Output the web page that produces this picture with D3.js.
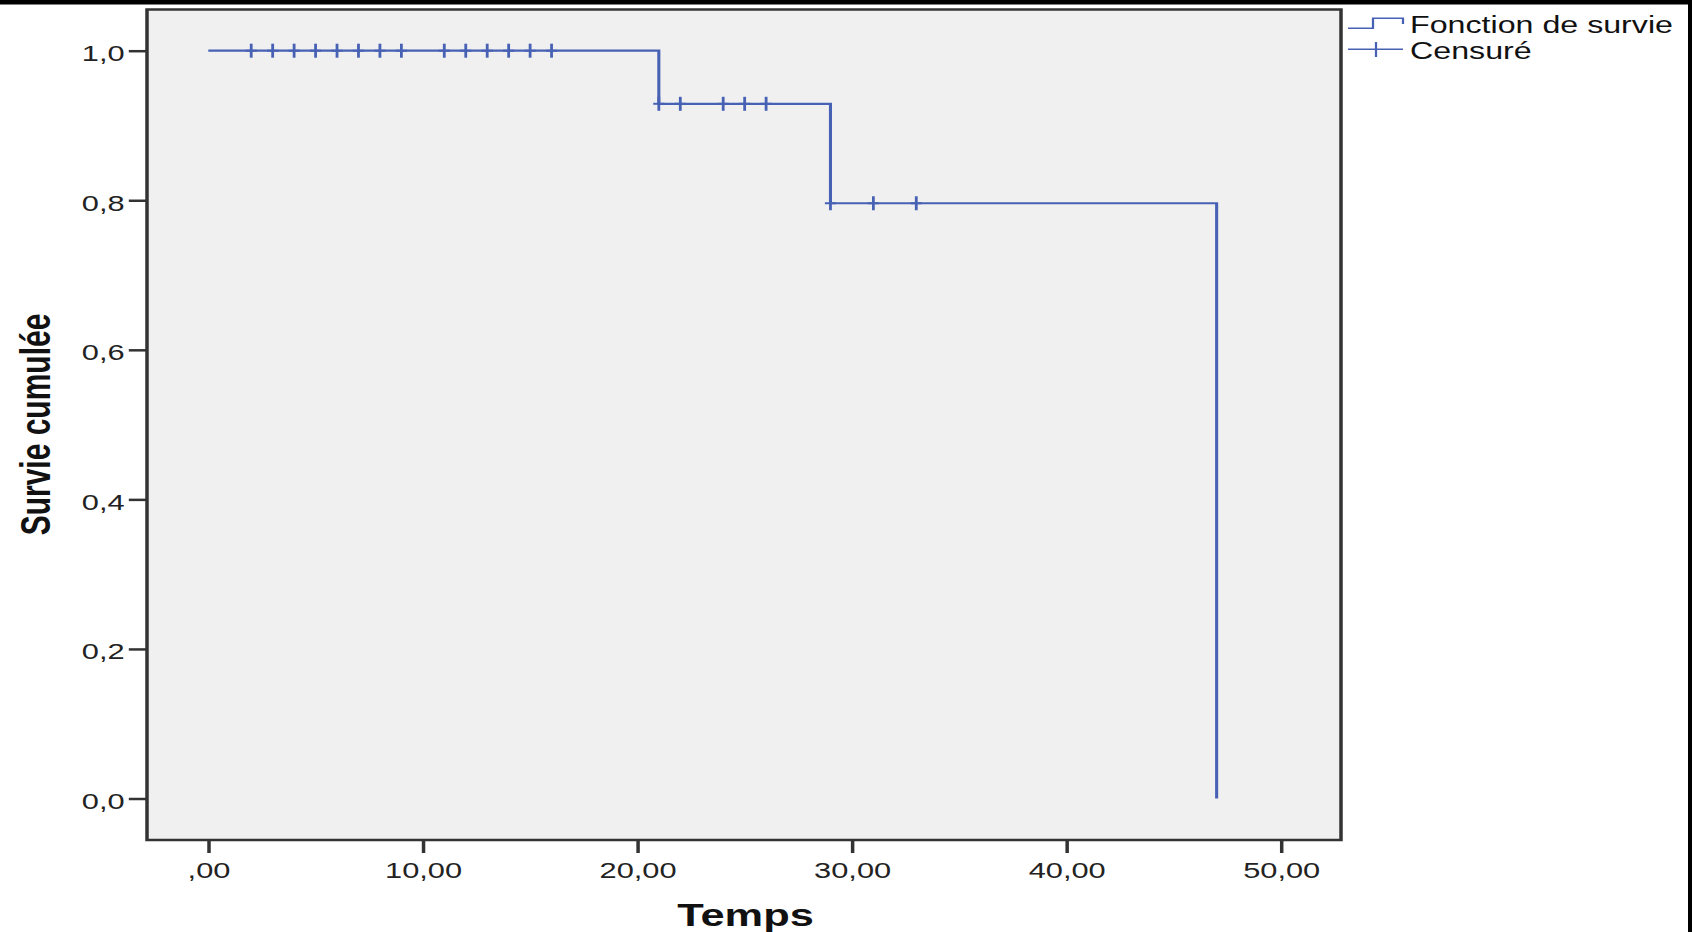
<!DOCTYPE html>
<html>
<head>
<meta charset="utf-8">
<script src="https://cdn.jsdelivr.net/npm/d3@7"></script>
<style>
  body { margin: 0; background: #fff; }
  svg { display: block; }
</style>
</head>
<body>
<div class="canva"></div>
<script>
// Kaplan-Meier curve (SPSS style)
const stepTimes = [0, 21, 29, 47];
const stepSurvival = [1.0, 0.929, 0.796, 0.0];
const censoredTimes = [2, 3, 4, 5, 6, 7, 8, 9, 11, 12, 13, 14, 15, 16,
                       21, 22, 24, 25, 26, 29, 31, 33];
const xTicks = [0, 10, 20, 30, 40, 50];
const yTicks = [0, 0.2, 0.4, 0.6, 0.8, 1.0];
const legendLabels = ["Fonction de survie", "Censuré"];

const width = 1692, height = 932;
// the original picture is stretched sideways, so everything is drawn in a scaled group
const SX = 1.4;
const lineColor = "#4761b4";
const frameColor = "#333";
const fontFam = "'Liberation Sans', Arial, sans-serif";

const svg = d3.select(".canva").append("svg")
    .attr("width", width)
    .attr("height", height);

svg.append("rect").attr("width", width).attr("height", height).attr("fill", "#fff");

const g = svg.append("g").attr("transform", `scale(${SX},1)`);

const frame = {left: 147 / SX, right: 1341 / SX, top: 9.5, bottom: 840};

const x = d3.scaleLinear().domain([0, 50]).range([208.3 / SX, 1281 / SX]);
const y = d3.scaleLinear().domain([0, 1]).range([798.5, 50.7]);

g.append("rect")
    .attr("x", frame.left)
    .attr("y", frame.top)
    .attr("width", frame.right - frame.left)
    .attr("height", frame.bottom - frame.top)
    .attr("fill", "#f0f0f0")
    .attr("stroke", frameColor)
    .attr("stroke-width", 2.5);

// axes
const yAxis = d3.axisLeft(y)
    .tickValues(yTicks)
    .tickSize(13)
    .tickPadding(3)
    .tickFormat(d => d3.format(".1f")(d).replace(".", ","));

const yG = g.append("g")
    .attr("transform", `translate(${frame.left},0)`)
    .call(yAxis);

const xAxis = d3.axisBottom(x)
    .tickValues(xTicks)
    .tickSize(13)
    .tickPadding(9)
    .tickFormat(d => d === 0 ? ",00" : d3.format(".2f")(d).replace(".", ","));

const xG = g.append("g")
    .attr("transform", `translate(0,${frame.bottom})`)
    .call(xAxis);

[xG, yG].forEach(ax => {
    ax.select(".domain").remove();
    ax.attr("font-size", 22).attr("font-family", fontFam);
    ax.selectAll(".tick line").attr("stroke", frameColor).attr("stroke-width", 2.5);
    ax.selectAll(".tick text").attr("fill", "#222");
});
yG.selectAll(".tick text").attr("dy", "0.45em");

// survival step curve
const line = d3.line()
    .x(d => x(d[0]))
    .y(d => y(d[1]))
    .curve(d3.curveStepAfter);

const pts = stepTimes.map((t, i) => [t, stepSurvival[i]]);

g.append("path")
    .datum(pts)
    .attr("fill", "none")
    .attr("stroke", lineColor)
    .attr("stroke-width", 2.2)
    .attr("d", line);

// censored marks: survival level at the time of censoring
const survAt = t => {
    let s = stepSurvival[0];
    stepTimes.forEach((st, i) => { if (st <= t) s = stepSurvival[i]; });
    return s;
};

const marks = g.append("g").selectAll("g")
    .data(censoredTimes)
    .enter()
    .append("g")
    .attr("transform", d => `translate(${x(d)},${y(survAt(d))})`)
    .attr("stroke", lineColor)
    .attr("stroke-width", 2);

marks.append("line").attr("x1", 0).attr("x2", 0).attr("y1", -7).attr("y2", 7);
marks.append("line").attr("x1", -4).attr("x2", 4).attr("y1", 0).attr("y2", 0);

// axis titles
g.append("text")
    .attr("transform", `translate(${50 / SX},424.5) rotate(-90)`)
    .attr("text-anchor", "middle")
    .attr("font-family", fontFam)
    .attr("font-weight", "bold")
    .attr("font-size", 30)
    .attr("fill", "#111")
    .text("Survie cumulée");

g.append("text")
    .attr("x", 745.5 / SX)
    .attr("y", 926.5)
    .attr("text-anchor", "middle")
    .attr("font-family", fontFam)
    .attr("font-weight", "bold")
    .attr("font-size", 31)
    .attr("fill", "#111")
    .text("Temps");

// legend
const lg = g.append("g");
const lx0 = 1348 / SX, lxMid = 1373 / SX, lx1 = 1403 / SX;

lg.append("path")
    .attr("d", `M${lx0},28.3 H${lxMid} V18.3 H${lx1} V24`)
    .attr("fill", "none")
    .attr("stroke", lineColor)
    .attr("stroke-width", 1.6);

lg.append("line")
    .attr("x1", lx0).attr("x2", lx1)
    .attr("y1", 49.3).attr("y2", 49.3)
    .attr("stroke", lineColor)
    .attr("stroke-width", 1.6);

lg.append("line")
    .attr("x1", 1376 / SX).attr("x2", 1376 / SX)
    .attr("y1", 42).attr("y2", 57)
    .attr("stroke", lineColor)
    .attr("stroke-width", 1.6);

lg.selectAll("text")
    .data(legendLabels)
    .enter()
    .append("text")
    .attr("x", 1410 / SX)
    .attr("y", (d, i) => 33 + i * 26.5)
    .attr("font-family", fontFam)
    .attr("font-size", 23)
    .attr("fill", "#111")
    .text(d => d);

// dark borders along the top and right edges of the original picture
svg.append("rect").attr("x", 0).attr("y", 0).attr("width", width).attr("height", 4.5).attr("fill", "#000");
svg.append("rect").attr("x", 1688).attr("y", 0).attr("width", 4).attr("height", height).attr("fill", "#000");
</script>
</body>
</html>
